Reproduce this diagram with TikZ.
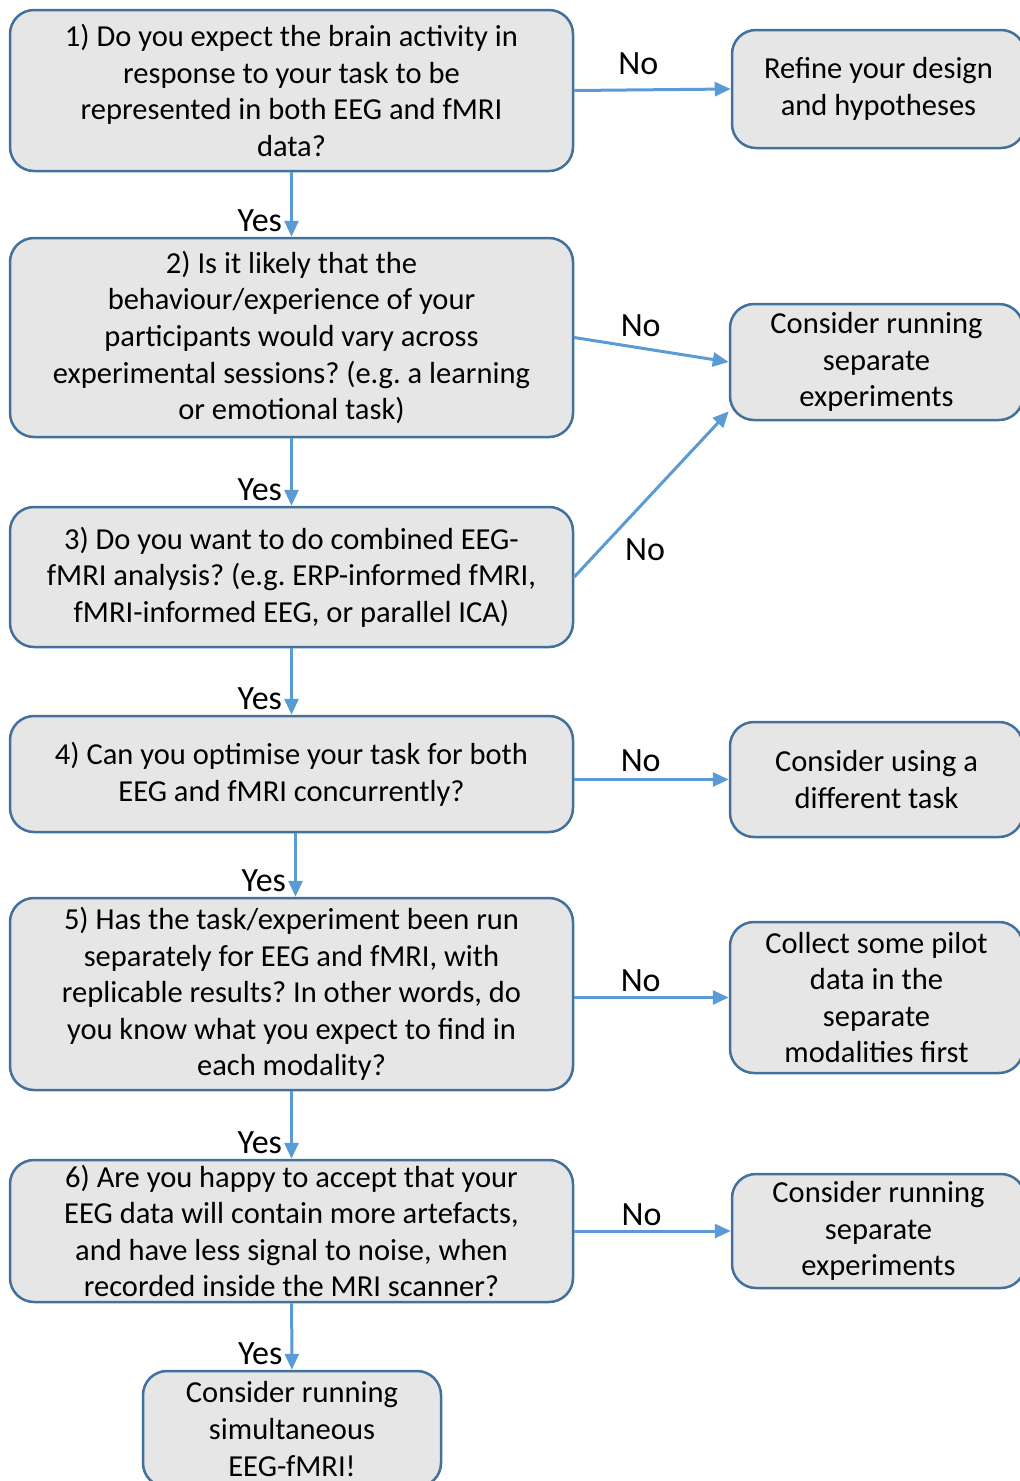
\documentclass[tikz,border=0pt]{standalone}
\usepackage{fontspec}
\setmainfont{Carlito}
\usetikzlibrary{arrows.meta}
\definecolor{boxfill}{HTML}{E7E6E6}
\definecolor{boxline}{HTML}{41719C}
\definecolor{flowblue}{HTML}{5B9BD5}
\frenchspacing
\tikzset{
  qbox/.style={draw=boxline, fill=boxfill, line width=2.5pt, rounded corners=24pt,
    align=center, inner sep=0pt, font=\fontsize{30.5}{36.6}\selectfont},
  flow/.style={draw=flowblue, line width=3pt, -{Triangle[length=16pt,width=14pt]}},
  lbl/.style={font=\fontsize{34}{40}\selectfont, inner sep=0pt},
  yes/.style={lbl, pos=1, anchor=base east, xshift=-8pt, yshift=5pt},
  no/.style={lbl, pos=0.43, anchor=base, yshift=#1},
}
\begin{document}
\begin{tikzpicture}[x=1pt,y=-1pt]
  \useasboundingbox (0,0) rectangle (1020,1481);
  \node[qbox, minimum width=563pt, minimum height=161pt] (q1) at (291.5,90.5)
    {1) Do you expect the brain activity in\\response to your task to be\\represented in both EEG and fMRI\\data?};
  \node[qbox, minimum width=563pt, minimum height=199pt] (q2) at (291.5,337.5)
    {2) Is it likely that the\\behaviour/experience of your\\participants would vary across\\experimental sessions? (e.g. a learning\\or emotional task)};
  \node[qbox, minimum width=563pt, minimum height=140pt] (q3) at (291.5,577)
    {3) Do you want to do combined EEG-\\fMRI analysis? (e.g. ERP-informed fMRI,\\fMRI-informed EEG, or parallel ICA)};
  \node[qbox, minimum width=563pt, minimum height=116pt] (q4) at (291.5,774)
    {4) Can you optimise your task for both\\EEG and fMRI concurrently?};
  \node[qbox, minimum width=563pt, minimum height=192pt] (q5) at (291.5,994)
    {5) Has the task/experiment been run\\separately for EEG and fMRI, with\\replicable results? In other words, do\\you know what you expect to find in\\each modality?};
  \node[qbox, minimum width=563pt, minimum height=142pt] (q6) at (291.5,1231)
    {6) Are you happy to accept that your\\EEG data will contain more artefacts,\\and have less signal to noise, when\\recorded inside the MRI scanner?};
  \node[qbox, minimum width=298pt, minimum height=116pt] (go) at (292,1429)
    {Consider running\\simultaneous\\EEG-fMRI!};
  % answers on the right
  \node[qbox, minimum width=293pt, minimum height=118pt] (r1) at (878.5,89)
    {Refine your design\\and hypotheses};
  \node[qbox, minimum width=293pt, minimum height=116pt] (r2) at (876.5,362)
    {Consider running\\separate\\experiments};
  \node[qbox, minimum width=293pt, minimum height=115pt] (r3) at (876.5,779.5)
    {Consider using a\\different task};
  \node[qbox, minimum width=293pt, minimum height=151pt] (r4) at (876.5,997.5)
    {Collect some pilot\\data in the\\separate\\modalities first};
  \node[qbox, minimum width=293pt, minimum height=114pt] (r5) at (878.5,1231)
    {Consider running\\separate\\experiments};
  \begin{scope}[flow]
    \draw (q1) -- (q2) node[yes]{Yes};
    \draw (q2) -- (q3) node[yes]{Yes};
    \draw (q3) -- (q4) node[yes]{Yes};
    \draw ([xshift=4pt]q4.south) -- ([xshift=4pt]q5.north) node[yes]{Yes};
    \draw (q5) -- (q6) node[yes]{Yes};
    \draw (q6) -- (go) node[yes]{Yes};
    \draw (q1.east) -- (r1.west) node[no=15pt, pos=0.41]{No};
    \draw (q2.east) -- (r2.west) node[no=12pt]{No};
    \draw (q3.east) -- ([yshift=10pt]r2.south west)
      node[lbl, pos=0.1, anchor=base west, xshift=34pt]{No};
    \draw (q4.east |- r3.west) -- (r3.west) node[no=8pt]{No};
    \draw (q5.east |- r4.west) -- (r4.west) node[no=6pt]{No};
    \draw (q6.east |- r5.west) -- (r5.west) node[no=6pt]{No};
  \end{scope}
\end{tikzpicture}
\end{document}
